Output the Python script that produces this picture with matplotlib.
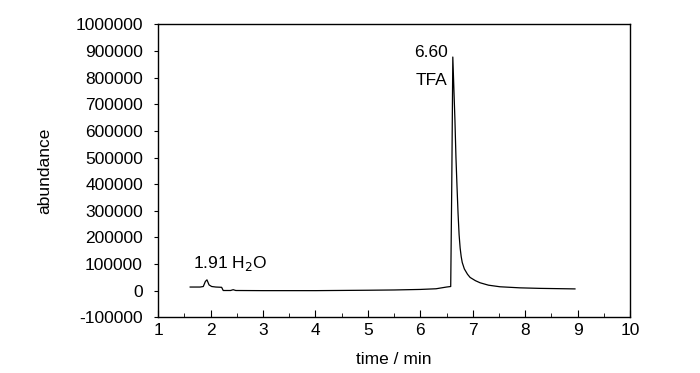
import matplotlib
matplotlib.use("Agg")
import matplotlib.pyplot as plt
import numpy as np

plt.rcParams['font.family'] = ['Liberation Sans', 'DejaVu Sans']

# chromatogram (time in min, abundance)
time = [1.61, 1.80, 1.86, 1.90, 1.93, 1.97, 2.02, 2.10, 2.21, 2.24, 2.38, 2.43, 2.48,
        3.0, 4.0, 5.0, 5.5, 6.0, 6.3, 6.50, 6.58, 6.60, 6.62, 6.64, 6.66, 6.68, 6.70, 6.72,
        6.74, 6.76, 6.78, 6.80, 6.84, 6.90, 6.95, 7.05, 7.14, 7.30, 7.52, 7.9, 8.28, 8.95]
abundance = [14000, 14000, 16000, 35000, 41000, 22000, 16000, 14000, 13000, 1000, 1000, 4000, 1000,
             500, 500, 2000, 3000, 5000, 7500, 14000, 16000, 400000, 877000, 760000, 643000, 500000, 391000, 290000,
             210000, 160000, 128000, 106000, 82000, 62000, 50000, 38000, 30000, 21000, 15000, 11000, 9000, 7000]

xticks = list(range(1, 11))
yticks = list(range(-100000, 1000001, 100000))

fig, ax = plt.subplots(figsize=(7, 3.73), dpi=100)
fig.subplots_adjust(left=0.226, right=0.9, top=0.935, bottom=0.149)

ax.plot(time, abundance, color='black', linewidth=0.9)

ax.set_xlim(1, 10)
ax.set_ylim(-100000, 1000000)
ax.set_xticks(xticks)
ax.set_xticks(np.arange(1.5, 10, 1), minor=True)
ax.set_yticks(yticks)
ax.set_yticklabels([str(v) for v in yticks])
ax.tick_params(axis='x', direction='in', length=5, labelsize=12.5, pad=4)
ax.tick_params(axis='x', which='minor', direction='in', length=3)
ax.tick_params(axis='y', direction='out', length=3, labelsize=12.5, pad=8)

ax.set_xlabel('time / min', fontsize=12.5, labelpad=10)
ax.set_ylabel('abundance', fontsize=12.5, labelpad=17)

ax.text(6.52, 895000, '6.60', ha='right', va='center', fontsize=12.5)
ax.text(6.52, 789000, 'TFA', ha='right', va='center', fontsize=12.5)
ax.text(1.66, 103000, '1.91 H$_2$O', ha='left', va='center', fontsize=12.5)

for s in ax.spines.values():
    s.set_linewidth(1.0)

fig.savefig('out.png', dpi=100)
